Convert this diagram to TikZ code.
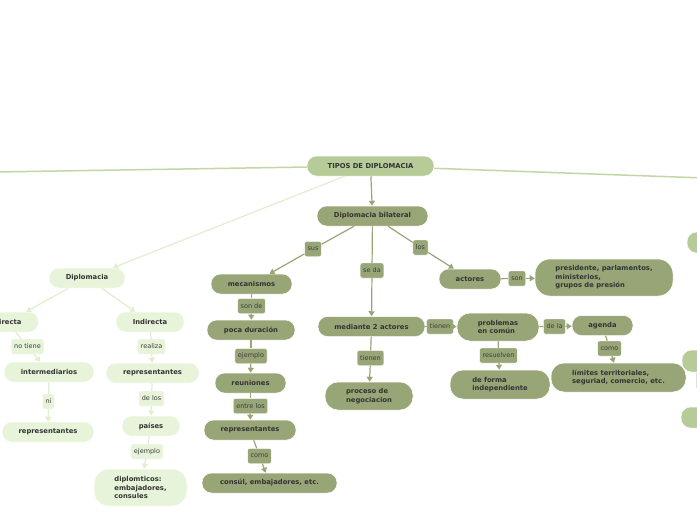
\documentclass[tikz,border=0pt]{standalone}
\usepackage{fontspec}
\setmainfont{DejaVu Sans}
\usetikzlibrary{arrows.meta}
\definecolor{rootc}{HTML}{B7CB98}
\definecolor{darkc}{HTML}{98A677}
\definecolor{lightc}{HTML}{E8F4DA}
\definecolor{ledgec}{HTML}{E2EFCF}
\definecolor{redgec}{HTML}{C3D7A6}
\definecolor{txtc}{HTML}{333333}
\definecolor{lbltxt}{HTML}{3C3C3C}
\tikzset{
  base/.style={rounded corners=9.5pt, minimum height=20pt, inner xsep=4pt, inner ysep=2pt,
    text=txtc, font=\fontsize{6.8}{8.5}\selectfont\bfseries, draw=white, line width=0.5pt},
  rootbox/.style={base, fill=rootc},
  darkbox/.style={base, fill=darkc},
  lightbox/.style={base, fill=lightc},
  lblbase/.style={rounded corners=2pt, minimum height=15pt, inner xsep=3pt, inner ysep=1pt,
    text=lbltxt, font=\fontsize{6.5}{8}\selectfont, draw=white, line width=0.4pt},
  darklbl/.style={lblbase, fill=darkc},
  lightlbl/.style={lblbase, fill=lightc},
  dedge/.style={draw=darkc, line width=1.2pt},
  ledge/.style={draw=ledgec, line width=1.2pt},
  redge/.style={draw=redgec, line width=1.5pt},
  tip/.style={-{Triangle[width=6pt,length=5pt]}}
}
\begin{document}
\begin{tikzpicture}[x=1pt,y=-1pt]
\clip (0,0) rectangle (697,520);
\fill[white] (0,0) rectangle (697,520);

% partial nodes at the right edge
\node[rootbox, minimum width=70pt, minimum height=21pt] (rp1) at (722,242.5) {};
\node[rootbox, minimum width=70pt, minimum height=22pt] (rp2) at (717,361) {};
\node[rootbox, minimum width=70pt, minimum height=21pt] (rp3) at (716,417.5) {};
\node[draw=gray!25, fill=white, minimum width=12pt, minimum height=14pt, inner sep=0pt] (rpl) at (702,380) {};

% root
\node[rootbox, minimum width=127pt] (root) at (370.5,166) {TIPOS DE DIPLOMACIA};
\coordinate (offL) at (-5,172);
\coordinate (offR) at (705,178);

% bilateral branch
\node[darkbox, minimum width=111pt] (bil) at (372.5,216) {Diplomacia bilateral};
\node[darkbox, minimum width=81pt] (mec) at (251.5,284) {mecanismos};
\node[darkbox, minimum width=88pt] (poca) at (251,330) {poca duración};
\node[darkbox, minimum width=71pt] (reu) at (250.5,383) {reuniones};
\node[darkbox, minimum width=92pt] (rep1) at (250,430) {representantes};
\node[darkbox, minimum width=135pt] (cons) at (269.5,483) {consúl, embajadores, etc.};
\node[darkbox, minimum width=107pt] (med) at (371.5,326.5) {mediante 2 actores};
\node[darkbox, minimum width=88pt, minimum height=28pt, rounded corners=13pt, align=left] (proc) at (369,396) {proceso de\\negociacion};
\node[darkbox, minimum width=62pt] (act) at (470,279) {actores};
\node[darkbox, minimum width=138pt, minimum height=37pt, rounded corners=15pt, align=left] (pres) at (604,277.5) {presidente, parlamentos,\\ministerios,\\grupos de presión};
\node[darkbox, minimum width=82pt, minimum height=28pt, rounded corners=13pt, align=left] (prob) at (498,327) {problemas\\en común};
\node[darkbox, minimum width=61pt] (agen) at (602.5,325.5) {agenda};
\node[darkbox, minimum width=135pt, minimum height=29pt, rounded corners=13pt, align=left] (lim) at (618.5,377.5) {límites territoriales,\\seguriad, comercio, etc.};
\node[darkbox, minimum width=100pt, minimum height=29pt, rounded corners=13pt, align=left] (indep) at (500,384.5) {de forma\\independiente};

% light branch
\node[lightbox, minimum width=76pt] (dip) at (87,278) {Diplomacia};
\node[lightbox, minimum width=62pt] (dir) at (7.5,322) {Directa};
\node[lightbox, minimum width=68pt] (ind) at (150,322) {Indirecta};
\node[lightbox, minimum width=90pt] (inter) at (49,372) {intermediarios};
\node[lightbox, minimum width=92pt] (rep2) at (48,432) {representantes};
\node[lightbox, minimum width=93pt] (rep3) at (152.5,373) {representantes};
\node[lightbox, minimum width=58pt] (pais) at (151,426) {países};
\node[lightbox, minimum width=93pt, minimum height=37pt, rounded corners=15pt, align=left] (dipl) at (140.5,487.5) {diplomticos:\\embajadores,\\consules};

% labels
\node[darklbl] (lsus) at (313,249) {sus};
\node[darklbl] (lsonde) at (251.5,306) {son de};
\node[darklbl] (lej1) at (251,356) {ejemplo};
\node[darklbl] (lentre) at (250.5,406) {entre los};
\node[darklbl] (lcomo1) at (259.5,456) {como};
\node[darklbl] (lseda) at (372,270.5) {se da};
\node[darklbl] (ltien1) at (370.5,358) {tienen};
\node[darklbl] (llos) at (420.5,247.5) {los};
\node[darklbl] (lson) at (517,278.5) {son};
\node[darklbl] (ltien2) at (440,326.5) {tienen};
\node[darklbl] (ldela) at (554.5,326.5) {de la};
\node[darklbl] (lcomo2) at (609.5,348.5) {como};
\node[darklbl] (lres) at (498.5,355.5) {resuelven};
\node[lightlbl] (lnot) at (27.5,346.5) {no tiene};
\node[lightlbl] (lni) at (48.5,401.5) {ni};
\node[lightlbl] (lreal) at (151.5,346.5) {realiza};
\node[lightlbl] (ldelos) at (151.5,398.5) {de los};
\node[lightlbl] (lej2) at (147,451.5) {ejemplo};

% connectors from root
\draw[redge] (root) -- (offL);
\draw[redge] (root) -- (offR);
\draw[dedge,tip] (root) -- (bil);
\draw[ledge,tip] (root) -- (dip);

% dark connectors
\draw[dedge] (bil) -- (lsus); \draw[dedge,tip] (lsus) -- (mec);
\draw[dedge] (bil) -- (lseda); \draw[dedge,tip] (lseda) -- (med);
\draw[dedge] (bil) -- (llos); \draw[dedge,tip] (llos) -- (act);
\draw[dedge] (mec) -- (lsonde); \draw[dedge,tip] (lsonde) -- (poca);
\draw[dedge] (poca) -- (lej1); \draw[dedge,tip] (lej1) -- (reu);
\draw[dedge] (reu) -- (lentre); \draw[dedge,tip] (lentre) -- (rep1);
\draw[dedge] (rep1) -- (lcomo1); \draw[dedge,tip] (lcomo1) -- (cons);
\draw[dedge] (med) -- (ltien1); \draw[dedge,tip] (ltien1) -- (proc);
\draw[dedge] (med) -- (ltien2); \draw[dedge,tip] (ltien2) -- (prob);
\draw[dedge] (act) -- (lson); \draw[dedge,tip] (lson) -- (pres);
\draw[dedge] (prob) -- (ldela); \draw[dedge,tip] (ldela) -- (agen);
\draw[dedge] (prob) -- (lres); \draw[dedge,tip] (lres) -- (indep);
\draw[dedge] (agen) -- (lcomo2); \draw[dedge,tip] (lcomo2) -- (lim);

% light connectors
\draw[ledge,tip] (dip) -- (dir);
\draw[ledge,tip] (dip) -- (ind);
\draw[ledge] (dir) -- (lnot); \draw[ledge,tip] (lnot) -- (inter);
\draw[ledge] (inter) -- (lni); \draw[ledge,tip] (lni) -- (rep2);
\draw[ledge] (ind) -- (lreal); \draw[ledge,tip] (lreal) -- (rep3);
\draw[ledge] (rep3) -- (ldelos); \draw[ledge,tip] (ldelos) -- (pais);
\draw[ledge] (pais) -- (lej2); \draw[ledge,tip] (lej2) -- (dipl);
\end{tikzpicture}
\end{document}
